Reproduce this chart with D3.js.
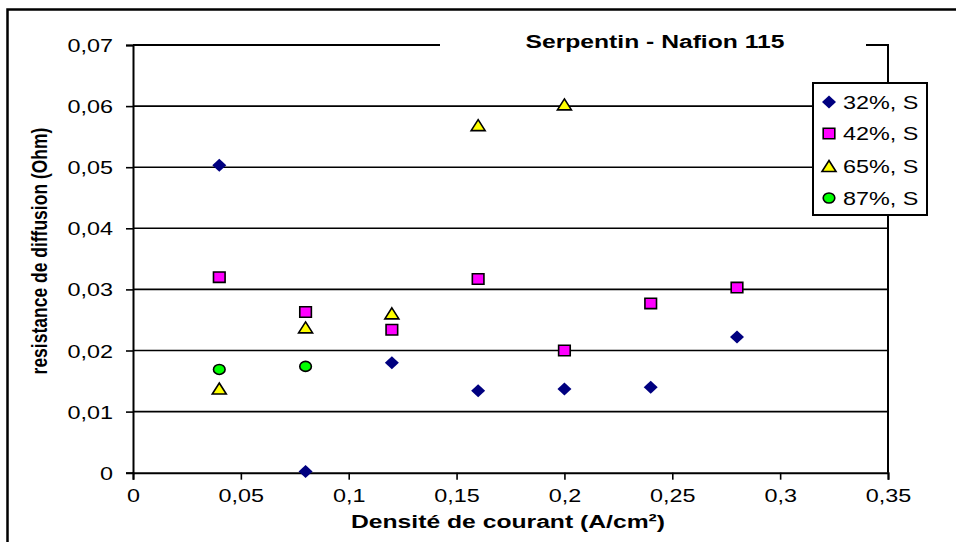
<!DOCTYPE html>
<html>
<head>
<meta charset="utf-8">
<script src="https://cdn.jsdelivr.net/npm/d3@7"></script>
<style>
  body { margin: 0; background: #fff; }
  svg { display: block; font-family: Arial, "Liberation Sans", sans-serif; }
</style>
</head>
<body>
<div id="chart"></div>
<script>
'use strict'

// ---- data ----
const xTicks = [0, 0.05, 0.1, 0.15, 0.2, 0.25, 0.3, 0.35]
const yTicks = [0, 0.01, 0.02, 0.03, 0.04, 0.05, 0.06, 0.07]

const seriesNames = ['32%, S', '42%, S', '65%, S', '87%, S']

const x32 = [0.04, 0.08, 0.12, 0.16, 0.2, 0.24, 0.28]
const y32 = [0.0503, 0.0002, 0.0180, 0.0134, 0.0137, 0.0140, 0.0222]

const x42 = [0.04, 0.08, 0.12, 0.16, 0.2, 0.24, 0.28]
const y42 = [0.0320, 0.0263, 0.0234, 0.0317, 0.0200, 0.0277, 0.0303]

const x65 = [0.04, 0.08, 0.12, 0.16, 0.2]
const y65 = [0.0137, 0.0237, 0.0260, 0.0568, 0.0602]

const x87 = [0.04, 0.08]
const y87 = [0.0169, 0.0174]

////////////////////////////////////
//////////// svg setup /////////////
////////////////////////////////////
const svgWidth = 956, svgHeight = 542
const plot = { left: 133, right: 888, top: 45, bottom: 472.7 }
const sx = 1.3   // the original picture is stretched sideways, text too

const svg = d3.select('#chart').append('svg')
    .attr('width', svgWidth)
    .attr('height', svgHeight)

const x = d3.scaleLinear().domain([0, 0.35]).range([plot.left, plot.right])
const y = d3.scaleLinear().domain([0, 0.07]).range([plot.bottom, plot.top])

const fmt = d => String(+d.toFixed(2)).replace('.', ',')

// outer frame
svg.append('rect')
    .attr('x', 7.5).attr('y', 9.5)
    .attr('width', 1200).attr('height', 800)
    .attr('fill', 'none').attr('stroke', '#000').attr('stroke-width', 2.5)

// gridlines
svg.append('g').selectAll('line')
    .data(yTicks.filter(d => d > 0 && d < 0.07))
    .join('line')
    .attr('x1', plot.left).attr('x2', plot.right)
    .attr('y1', d => y(d)).attr('y2', d => y(d))
    .attr('stroke', '#000').attr('stroke-width', 1.6)

// plot border (top + right)
svg.append('path')
    .attr('d', `M${plot.left},${plot.top}H${plot.right}V${plot.bottom}`)
    .attr('fill', 'none').attr('stroke', '#000').attr('stroke-width', 2)

// axes
const xAxis = svg.append('g')
    .attr('transform', `translate(0,${plot.bottom})`)
    .call(d3.axisBottom(x).tickValues(xTicks).tickFormat(fmt).tickSizeOuter(0).tickSize(7))
const yAxis = svg.append('g')
    .attr('transform', `translate(${plot.left},0)`)
    .call(d3.axisLeft(y).tickValues(yTicks).tickFormat(fmt).tickSizeOuter(0).tickSize(7))

;[xAxis, yAxis].forEach(a => {
    a.select('.domain').attr('stroke', '#000').attr('stroke-width', 2)
    a.selectAll('.tick line').attr('stroke', '#000').attr('stroke-width', 1.6)
    a.selectAll('.tick text')
        .attr('fill', '#000')
        .style('font-size', '18px')
})
xAxis.selectAll('.tick text')
    .attr('y', null).attr('dy', null)
    .attr('transform', `translate(0,29.5) scale(${sx},1)`)
yAxis.selectAll('.tick text')
    .attr('x', null).attr('dy', null)
    .attr('transform', `translate(-20,6.5) scale(${sx},1)`)

// title, sitting on a white box that cuts the top border
svg.append('rect')
    .attr('x', 440).attr('y', 28).attr('width', 426).attr('height', 32)
    .attr('fill', '#fff')
svg.append('text')
    .attr('transform', `translate(655,48.3) scale(1.41,1)`)
    .attr('text-anchor', 'middle')
    .style('font-size', '17.5px').style('font-weight', 'bold')
    .text('Serpentin - Nafion 115')

// axis titles
svg.append('text')
    .attr('transform', `translate(508,528) scale(${sx},1)`)
    .attr('text-anchor', 'middle')
    .style('font-size', '19px').style('font-weight', 'bold')
    .text('Densité de courant (A/cm²)')

svg.append('text')
    .attr('transform', `translate(47,251) scale(${sx},1) rotate(-90)`)
    .attr('text-anchor', 'middle')
    .style('font-size', '17.5px').style('font-weight', 'bold')
    .text('resistance de diffusion (Ohm)')

////////////////////////////////////
////////////// markers /////////////
////////////////////////////////////
function markerPath(type) {
    const p = d3.path()
    if (type === 'diamond') {
        p.moveTo(0, -6.5); p.lineTo(7, 0); p.lineTo(0, 6.5); p.lineTo(-7, 0); p.closePath()
    } else if (type === 'square') {
        p.rect(-5.8, -5.2, 11.6, 10.4)
    } else {
        p.moveTo(0, -6); p.lineTo(7, 5); p.lineTo(-7, 5); p.closePath()
    }
    return p.toString()
}

function ellipsePath(rx, ry) {
    return `M${-rx},0A${rx},${ry} 0 1,0 ${rx},0A${rx},${ry} 0 1,0 ${-rx},0Z`
}

const styles = [
    { type: 'diamond', fill: '#000080', stroke: 'none' },
    { type: 'square', fill: '#FF00FF', stroke: '#000' },
    { type: 'triangle', fill: '#FFFF00', stroke: '#000' },
    { type: 'circle', fill: '#00FF00', stroke: '#000' }
]
const shape = t => t === 'circle' ? ellipsePath(5.8, 5) : markerPath(t)

const series = [
    d3.zip(x32, y32), d3.zip(x42, y42), d3.zip(x65, y65), d3.zip(x87, y87)
]

series.forEach((pts, i) => {
    const st = styles[i]
    svg.append('g').selectAll('path')
        .data(pts)
        .join('path')
        .attr('transform', d => `translate(${x(d[0])},${y(d[1])})`)
        .attr('d', shape(st.type))
        .attr('fill', st.fill)
        .attr('stroke', st.stroke)
        .attr('stroke-width', 1.6)
})

////////////////////////////////////
////////////// legend //////////////
////////////////////////////////////
const legend = svg.append('g')
legend.append('rect')
    .attr('x', 813).attr('y', 83).attr('width', 114).attr('height', 132)
    .attr('fill', '#fff').attr('stroke', '#000').attr('stroke-width', 2)

const rowY = [102, 133.5, 166.5, 198]
seriesNames.forEach((name, i) => {
    const st = styles[i]
    legend.append('path')
        .attr('transform', `translate(829,${rowY[i]})`)
        .attr('d', shape(st.type))
        .attr('fill', st.fill)
        .attr('stroke', st.stroke)
        .attr('stroke-width', 1.6)
    legend.append('text')
        .attr('transform', `translate(843,${rowY[i] + 6.5}) scale(${sx},1)`)
        .style('font-size', '18px')
        .text(name)
})
</script>
</body>
</html>
